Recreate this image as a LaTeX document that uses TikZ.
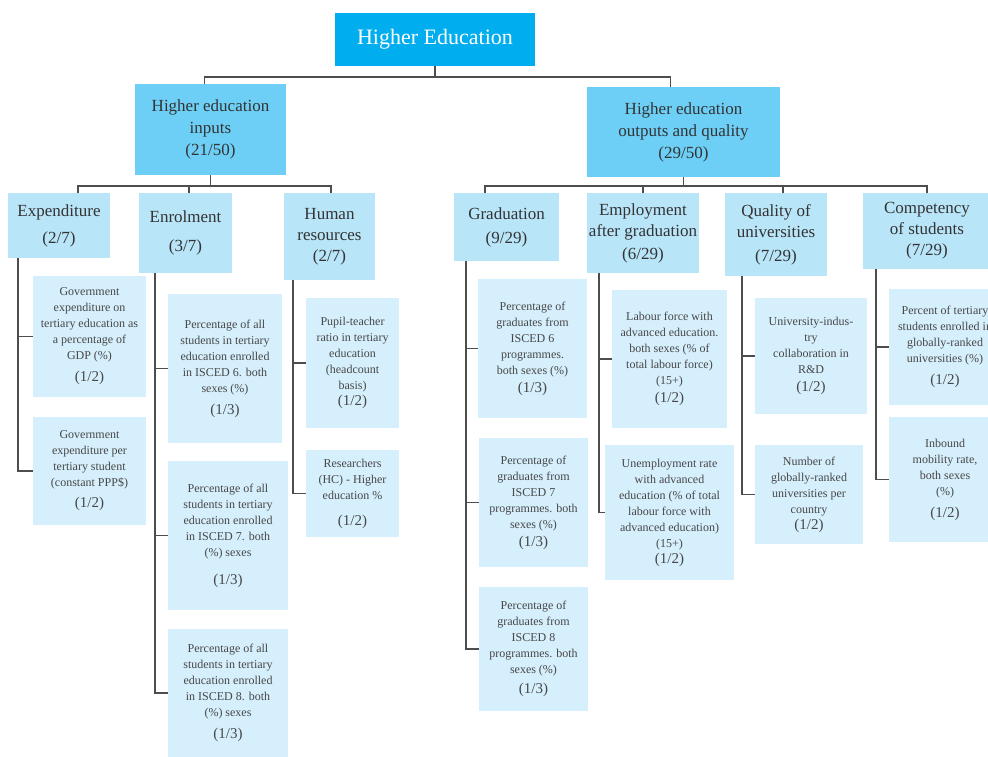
\documentclass[tikz,border=0pt]{standalone}
\usepackage{fontspec}
\setmainfont{Liberation Serif}

\definecolor{topblue}{HTML}{00AEEF}
\definecolor{midblue}{HTML}{6DCFF6}
\definecolor{subblue}{HTML}{B9E5F9}
\definecolor{leafblue}{HTML}{D6EFFC}
\definecolor{linegray}{HTML}{4D4D4D}
\definecolor{textgray}{HTML}{333333}

\newcommand{\score}[1]{{\fontsize{15}{17}\selectfont(#1)}}

\tikzset{
  topbox/.style={fill=topblue, text=white, align=center, inner sep=2pt,
    font=\fontsize{22}{26}\selectfont},
  pillarbox/.style={fill=midblue, text=textgray, align=center, inner sep=2pt,
    font=\fontsize{17}{22}\selectfont},
  areabox/.style={fill=subblue, text=textgray, align=center, inner sep=2pt,
    font=\fontsize{17}{21}\selectfont},
  leafbox/.style={fill=leafblue, text=textgray!90, align=center, inner sep=2pt,
    font=\fontsize{12}{16}\selectfont},
  link/.style={draw=linegray, line width=1.7pt}
}

\begin{document}
\begin{tikzpicture}[x=1pt, y=-1pt]
    \useasboundingbox (0,0) rectangle (988,757);
    \clip (0,0) rectangle (988,757);

    % Top of the tree
    \node[topbox, minimum width=200, minimum height=53] (top) at (435,39.5) {Higher Education};

    % Two pillars
    \node[pillarbox, minimum width=151, minimum height=91] (inp) at (210.5,129.5)
        {Higher education\\ inputs\\ (21/50)};
    \node[pillarbox, minimum width=193, minimum height=90] (outp) at (683.5,132)
        {Higher education\\ outputs and quality\\ (29/50)};

    % Areas, inputs side
    \node[areabox, minimum width=102, minimum height=65] (exp) at (59,225.5)
        {Expenditure\\[6pt] (2/7)};
    \node[areabox, minimum width=93, minimum height=80] (enr) at (185.5,233)
        {Enrolment\\[8pt] (3/7)};
    \node[areabox, minimum width=91, minimum height=87] (hum) at (329.5,236.5)
        {Human\\ resources\\ (2/7)};

    % Areas, outputs side
    \node[areabox, minimum width=105, minimum height=68] (grad) at (506.5,227)
        {Graduation\\[3pt] (9/29)};
    \node[areabox, minimum width=110, minimum height=80] (empl) at (643,233)
        {Employment\\ after graduation\\[2pt] (6/29)};
    \node[areabox, minimum width=102, minimum height=83] (qual) at (776,234.5)
        {Quality of\\ universities\\[3pt] (7/29)};
    \node[areabox, minimum width=128, minimum height=76] (comp) at (927,231)
        {Competency\\ of students\\ (7/29)};

    % Indicators under Expenditure
    \node[leafbox, minimum width=113, minimum height=121] (e1) at (89.5,336.5)
        {Government\\ expenditure on\\ tertiary education as\\ a percentage of\\ GDP (\%)\\[6pt] \score{1/2}};
    \node[leafbox, minimum width=113, minimum height=108] (e2) at (89.5,471)
        {Government\\ expenditure per\\ tertiary student\\ (constant PPP\$)\\[5pt] \score{1/2}};

    % Indicators under Enrolment
    \node[leafbox, minimum width=114, minimum height=149] (n1) at (225,368.5)
        {Percentage of all\\ students in tertiary\\ education enrolled\\ in ISCED 6. both\\ sexes (\%)\\[6pt] \score{1/3}};
    \node[leafbox, minimum width=120, minimum height=149] (n2) at (228,535.5)
        {Percentage of all\\ students in tertiary\\ education enrolled\\ in ISCED 7. both\\ (\%) sexes\\[12pt] \score{1/3}};
    \node[leafbox, minimum width=120, minimum height=128] (n3) at (228,693)
        {Percentage of all\\ students in tertiary\\ education enrolled\\ in ISCED 8. both\\ (\%) sexes\\[6pt] \score{1/3}};

    % Indicators under Human resources
    \node[leafbox, minimum width=93, minimum height=130] (h1) at (352.5,363)
        {Pupil-teacher\\ ratio in tertiary\\ education\\ (headcount\\ basis)\\ \score{1/2}};
    \node[leafbox, minimum width=93, minimum height=87] (h2) at (352.5,493.5)
        {Researchers\\ (HC) - Higher\\ education \%\\[10pt] \score{1/2}};

    % Indicators under Graduation
    \node[leafbox, minimum width=109, minimum height=139] (g1) at (532.5,348.5)
        {Percentage of\\ graduates from\\ ISCED 6\\ programmes.\\ both sexes (\%)\\[2pt] \score{1/3}};
    \node[leafbox, minimum width=109, minimum height=129] (g2) at (533.5,502.5)
        {Percentage of\\ graduates from\\ ISCED 7\\ programmes. both\\ sexes (\%)\\[2pt] \score{1/3}};
    \node[leafbox, minimum width=109, minimum height=124] (g3) at (533.5,649)
        {Percentage of\\ graduates from\\ ISCED 8\\ programmes. both\\ sexes (\%)\\[4pt] \score{1/3}};

    % Indicators under Employment after graduation
    \node[leafbox, minimum width=115, minimum height=138] (m1) at (669.5,359)
        {Labour force with\\ advanced education.\\ both sexes (\% of\\ total labour force)\\ (15+)\\[2pt] \score{1/2}};
    \node[leafbox, minimum width=129, minimum height=135] (m2) at (669.5,512.5)
        {Unemployment rate\\ with advanced\\ education (\% of total\\ labour force with\\ advanced education)\\ (15+)\\ \score{1/2}};

    % Indicators under Quality of universities
    \node[leafbox, minimum width=112, minimum height=116] (q1) at (811,356)
        {University-indus-\\ try\\ collaboration in\\ R\&D\\[2pt] \score{1/2}};
    \node[leafbox, minimum width=108, minimum height=99] (q2) at (809,494.5)
        {Number of\\ globally-ranked\\ universities per\\ country\\ \score{1/2}};

    % Indicators under Competency of students
    \node[leafbox, minimum width=112, minimum height=116] (c1) at (945,347)
        {Percent of tertiary\\ students enrolled in\\ globally-ranked\\ universities (\%)\\[6pt] \score{1/2}};
    \node[leafbox, minimum width=112, minimum height=125] (c2) at (945,479.5)
        {Inbound\\ mobility rate,\\ both sexes\\ (\%)\\[6pt] \score{1/2}};

    % Top level links
    \draw[link] (top.south) -- ++(0,11) -| ([xshift=-6]inp.north);
    \draw[link] (top.south) -- ++(0,11) -| ([xshift=-13]outp.north);

    % Pillar to area links
    \draw[link] (inp.south) -- ++(0,11) -| ([xshift=19]exp.north);
    \draw[link] (inp.south) -- ++(0,11) -| ([xshift=3.5]enr.north);
    \draw[link] (inp.south) -- ++(0,11) -| ([xshift=1.5]hum.north);
    \draw[link] (outp.south) -- ++(0,9) -| ([xshift=-21.5]grad.north);
    \draw[link] (outp.south) -- ++(0,9) -| (empl.north);
    \draw[link] (outp.south) -- ++(0,9) -| ([xshift=7]qual.north);
    \draw[link] (outp.south) -- ++(0,9) -| (comp.north);

    % Area to indicator links
    \draw[link] ([xshift=10]exp.south west) |- (e1.west);
    \draw[link] ([xshift=10]exp.south west) |- (e2.west);
    \draw[link] ([xshift=16]enr.south west) |- (n1.west);
    \draw[link] ([xshift=16]enr.south west) |- (n2.west);
    \draw[link] ([xshift=16]enr.south west) |- (n3.west);
    \draw[link] ([xshift=9]hum.south west) |- (h1.west);
    \draw[link] ([xshift=9]hum.south west) |- (h2.west);
    \draw[link] ([xshift=12]grad.south west) |- (g1.west);
    \draw[link] ([xshift=12]grad.south west) |- (g2.west);
    \draw[link] ([xshift=12]grad.south west) |- (g3.west);
    \draw[link] ([xshift=12]empl.south west) |- (m1.west);
    \draw[link] ([xshift=12]empl.south west) |- (m2.west);
    \draw[link] ([xshift=17]qual.south west) |- (q1.west);
    \draw[link] ([xshift=17]qual.south west) |- (q2.west);
    \draw[link] ([xshift=13]comp.south west) |- (c1.west);
    \draw[link] ([xshift=13]comp.south west) |- (c2.west);
\end{tikzpicture}
\end{document}
